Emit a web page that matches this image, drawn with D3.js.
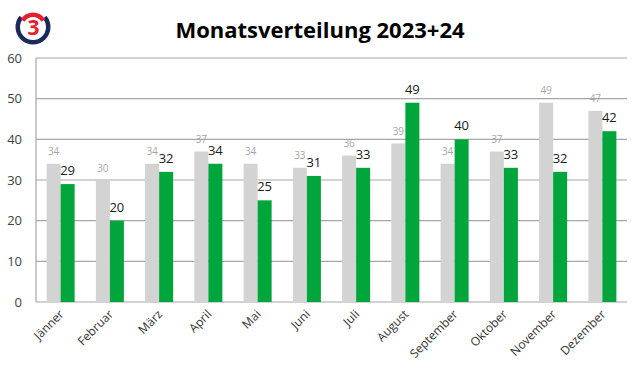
<!DOCTYPE html>
<html>
<head>
<meta charset="utf-8">
<script src="https://cdn.jsdelivr.net/npm/d3@7"></script>
<style>
  body { margin: 0; background: #fff; }
  svg { display: block; font-family: "Open Sans", "Liberation Sans", sans-serif; }
</style>
</head>
<body>
<svg id="chart" width="640" height="376"></svg>
<script>
const months = ["Jänner", "Februar", "März", "April", "Mai", "Juni", "Juli", "August", "September", "Oktober", "November", "Dezember"];
const years = ["2023", "2024"];
const values2023 = [34, 30, 34, 37, 34, 33, 36, 39, 34, 37, 49, 47];
const values2024 = [29, 20, 32, 34, 25, 31, 33, 49, 40, 33, 32, 42];
const yTicks = [0, 10, 20, 30, 40, 50, 60];

const grayColor = "#d3d3d3";
const greenColor = "#00a63c";
const textColor = "#404040";

let svg = d3.select("#chart");

let plotLeft = 36, plotRight = 627, plotTop = 58, plotBottom = 302;

let x = d3.scaleBand()
  .domain(months)
  .range([plotLeft, plotRight])
  .paddingInner(0.431)
  .paddingOuter(0.2155);

let xSub = d3.scaleBand()
  .domain(years)
  .range([0, x.bandwidth()]);

let y = d3.scaleLinear()
  .domain([0, 60])
  .range([plotBottom, plotTop]);

// gridlines
svg.append("g")
  .selectAll("line")
  .data(yTicks)
  .enter()
  .append("line")
  .attr("x1", plotLeft)
  .attr("x2", plotRight)
  .attr("y1", d => y(d))
  .attr("y2", d => y(d))
  .style("stroke", "#a6a6a6")
  .style("stroke-width", 1.2);

// y axis line
svg.append("line")
  .attr("x1", plotLeft).attr("x2", plotLeft)
  .attr("y1", y(60)).attr("y2", y(0))
  .style("stroke", "#a6a6a6")
  .style("stroke-width", 1.2);

// y tick labels
svg.append("g")
  .selectAll("text")
  .data(yTicks)
  .enter()
  .append("text")
  .attr("x", 22)
  .attr("y", d => y(d))
  .attr("dy", "0.35em")
  .attr("text-anchor", "end")
  .style("font-size", "13px")
  .style("fill", textColor)
  .text(d => d);

// bars
let rows = months.map((m, i) => ({ month: m, v2023: values2023[i], v2024: values2024[i] }));

let groups = svg.append("g")
  .selectAll("g")
  .data(rows)
  .enter()
  .append("g")
  .attr("transform", d => "translate(" + x(d.month) + ",0)");

groups.append("rect")
  .attr("x", xSub("2023"))
  .attr("y", d => y(d.v2023))
  .attr("width", xSub.bandwidth())
  .attr("height", d => y(0) - y(d.v2023))
  .style("fill", grayColor);

groups.append("rect")
  .attr("x", xSub("2024"))
  .attr("y", d => y(d.v2024))
  .attr("width", xSub.bandwidth())
  .attr("height", d => y(0) - y(d.v2024))
  .style("fill", greenColor);

// value labels
groups.append("text")
  .attr("x", xSub("2023") + xSub.bandwidth() / 2)
  .attr("y", d => y(d.v2023) - 8.5)
  .attr("text-anchor", "middle")
  .style("font-size", "10px")
  .style("fill", "#a6a6a6")
  .text(d => d.v2023);

groups.append("text")
  .attr("x", xSub("2024") + xSub.bandwidth() / 2)
  .attr("y", d => y(d.v2024) - 9)
  .attr("text-anchor", "middle")
  .style("font-size", "13px")
  .style("fill", "#1a1a1a")
  .text(d => d.v2024);

// x labels, rotated
svg.append("g")
  .selectAll("text")
  .data(months)
  .enter()
  .append("text")
  .attr("transform", d => "translate(" + (x(d) + x.bandwidth() / 2 + 1) + "," + (plotBottom + 10) + ") rotate(-45)")
  .attr("text-anchor", "end")
  .attr("dy", "0.35em")
  .style("font-size", "12px")
  .style("fill", "#333")
  .text(d => d);

// title
svg.append("text")
  .attr("x", 320)
  .attr("y", 38)
  .attr("text-anchor", "middle")
  .style("font-size", "22px")
  .style("font-weight", "bold")
  .style("fill", "#000")
  .text("Monatsverteilung 2023+24");

// logo (Ö3-style mark)
let logo = svg.append("g").attr("transform", "translate(33,27)");
logo.append("path")
  .attr("d", d3.arc()
    .innerRadius(13)
    .outerRadius(17.5)
    .startAngle(50 * Math.PI / 180)
    .endAngle(310 * Math.PI / 180))
  .attr("fill", "#1b2a5a");
logo.append("path")
  .attr("d", d3.arc()
    .innerRadius(10)
    .outerRadius(14.5)
    .startAngle(-58 * Math.PI / 180)
    .endAngle(58 * Math.PI / 180))
  .attr("fill", "#e3202d");
logo.append("text")
  .attr("x", 0.5)
  .attr("y", 8)
  .attr("text-anchor", "middle")
  .style("font-size", "21px")
  .style("font-weight", "bold")
  .style("fill", "#e3202d")
  .text("3");
</script>
</body>
</html>
